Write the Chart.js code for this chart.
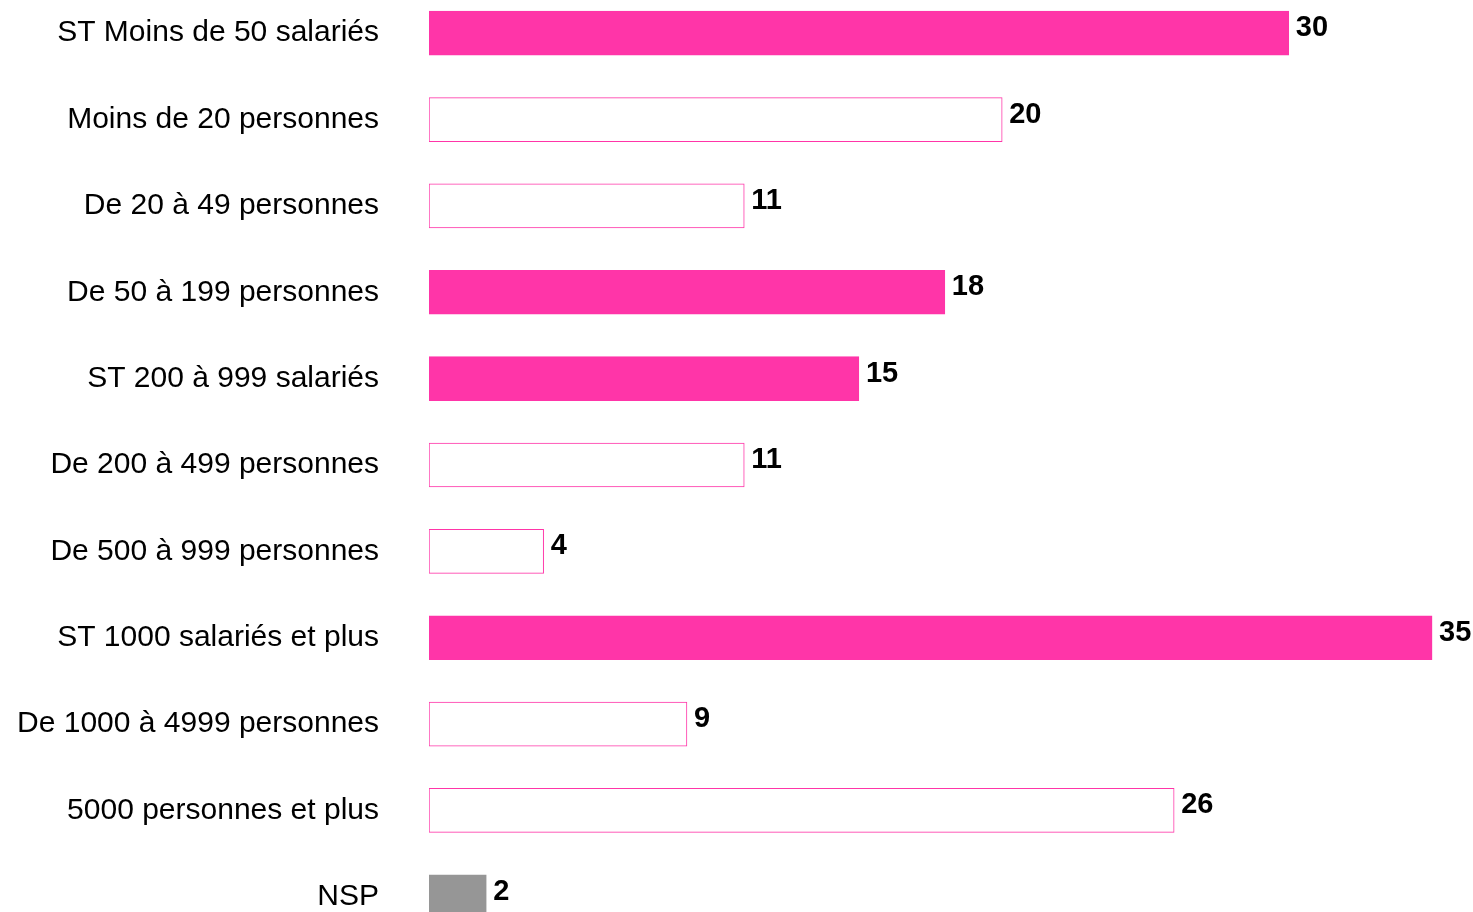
<!DOCTYPE html>
<html>
<head>
<meta charset="utf-8">
<script src="https://cdn.jsdelivr.net/npm/chart.js@4.4.1/dist/chart.umd.min.js"></script>
<style>
  html, body { margin: 0; padding: 0; background: #fff; overflow: hidden; }
  #wrap { position: absolute; left: 0; top: -10px; width: 1473px; height: 950px; }
</style>
</head>
<body>
<div id="wrap"><canvas id="myChart"></canvas></div>
<script>
/* Data */
const categories = [
  'ST Moins de 50 salariés',
  'Moins de 20 personnes',
  'De 20 à 49 personnes',
  'De 50 à 199 personnes',
  'ST 200 à 999 salariés',
  'De 200 à 499 personnes',
  'De 500 à 999 personnes',
  'ST 1000 salariés et plus',
  'De 1000 à 4999 personnes',
  '5000 personnes et plus',
  'NSP'
];
const values = [30, 20, 11, 18, 15, 11, 4, 35, 9, 26, 2];

const PINK = '#FF35A8';
const GREY = '#969696';
const FONT = '"Liberation Sans", Arial, sans-serif';

// subtotals (ST) and the 50-199 band are solid, detail rows are outlined, NSP is grey
const solid = ['ST ', 'De 50 '];
function fillFor(label) {
  if (label === 'NSP') return GREY;
  for (let s of solid) {
    if (label.indexOf(s) === 0) return PINK;
  }
  return '#FFFFFF';
}

/* Value labels at the end of each bar */
const valueLabels = {
  id: 'valueLabels',
  afterDatasetsDraw(chart) {
    const ctx = chart.ctx;
    const meta = chart.getDatasetMeta(0);
    ctx.save();
    ctx.font = 'bold 29px ' + FONT;
    ctx.fillStyle = '#000';
    ctx.textAlign = 'left';
    ctx.textBaseline = 'middle';
    meta.data.forEach(function (bar, i) {
      ctx.fillText(String(values[i]), bar.x + 7, bar.y - 5);
    });
    ctx.restore();
  }
};

var ctx = document.getElementById('myChart').getContext('2d');

// eslint-disable-next-line no-undef
var chart = new Chart(ctx, {
  type: 'bar',
  data: {
    labels: categories,
    datasets: [{
      data: values,
      backgroundColor: categories.map(fillFor),
      borderColor: categories.map(function (c) { return c === 'NSP' ? GREY : PINK; }),
      borderWidth: 1,
      borderSkipped: false,
      barThickness: 44
    }]
  },
  options: {
    indexAxis: 'y',
    responsive: true,
    maintainAspectRatio: false,
    animation: false,
    layout: { padding: { left: 0, right: 18, top: 0, bottom: 0 } },
    plugins: {
      legend: { display: false },
      tooltip: { enabled: false }
    },
    scales: {
      x: {
        display: false,
        min: 0,
        max: 35.8
      },
      y: {
        afterFit: function (scale) {
          // fixed label column, and no extra room above/below the bars
          scale.width = 429;
          scale.paddingTop = 0;
          scale.paddingBottom = 0;
        },
        grid: { display: false, drawTicks: false },
        border: { display: false },
        ticks: {
          padding: 50,
          color: '#000',
          font: { family: FONT, size: 30 }
        }
      }
    }
  },
  plugins: [valueLabels]
});
</script>
</body>
</html>
